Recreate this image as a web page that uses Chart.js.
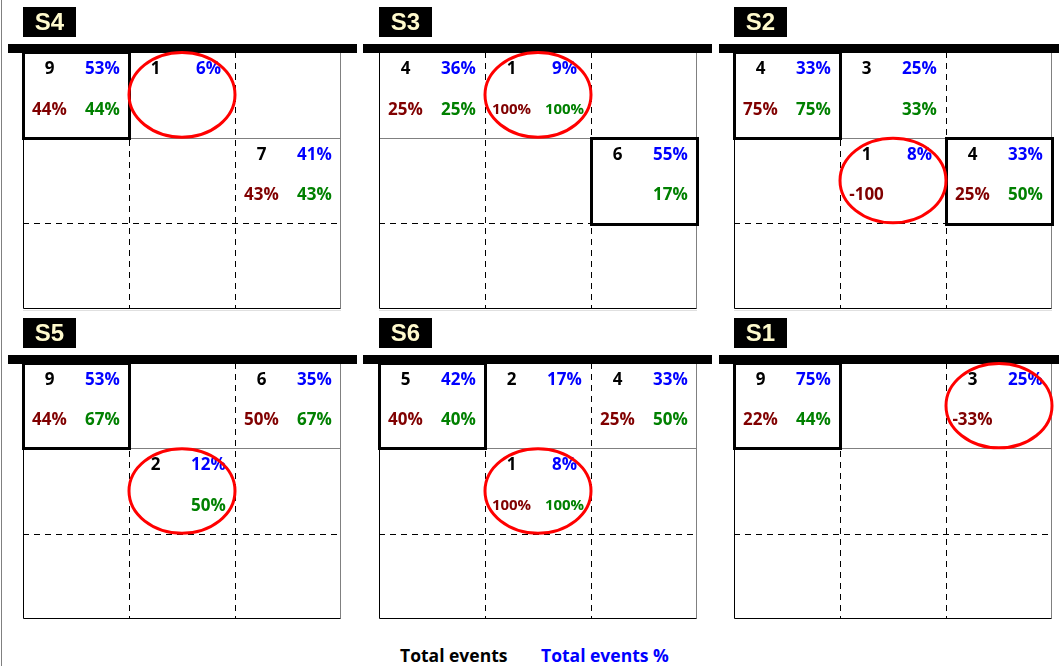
<!DOCTYPE html>
<html>
<head>
<meta charset="utf-8">
<title>Panels</title>
<script src="https://cdn.jsdelivr.net/npm/chart.js@4.4.1/dist/chart.umd.min.js"></script>
<style>
  body { margin: 0; background: #fff; }
  #wrap { position: relative; width: 1059px; height: 666px; overflow: hidden; font-family: "Open Sans", sans-serif; }
  #wrap canvas { position: absolute; }
  #edge { position: absolute; left: 1px; top: 0; width: 1px; height: 666px; background: #808080; }
  .leg { position: absolute; top: 643px; font-weight: bold; font-size: 17.5px; white-space: nowrap; }
</style>
</head>
<body>
<div id="wrap">
  <div id="edge"></div>
  <span class="leg" style="left:400px;color:#000">Total events</span>
  <span class="leg" style="left:541px;color:#0000ff">Total events %</span>
</div>

<script>
// data, one entry per panel (reading order)
const panelNames = ['S4', 'S3', 'S2', 'S5', 'S6', 'S1'];
const cellRow = [[0, 0, 1], [0, 0, 1], [0, 0, 1, 1], [0, 0, 1], [0, 0, 0, 1], [0, 0]];
const cellCol = [[0, 1, 2], [0, 1, 2], [0, 1, 1, 2], [0, 2, 1], [0, 1, 2, 1], [0, 2]];
const totalEvents = [[9, 1, 7], [4, 1, 6], [4, 3, 1, 4], [9, 6, 2], [5, 2, 4, 1], [9, 3]];
const totalEventsPct = [[53, 6, 41], [36, 9, 55], [33, 25, 8, 33], [53, 35, 12], [42, 17, 33, 8], [75, 25]];
const redPct = [[44, null, 43], [25, 100, null], [75, null, '-100', 25], [44, 50, null], [40, null, 25, 100], [22, -33]];
const greenPct = [[44, null, 43], [25, 100, 17], [75, 33, null, 50], [67, 67, 50], [40, null, 50, 100], [44, null]];
const boxedCells = [[0], [2], [0, 3], [0], [0], [0]];
const circledCell = [1, 1, 2, 2, 3, 1];

// canvas placement for the 3 columns / 2 rows
const colLeft = [8, 363, 719];
const colWidth = [349, 349, 340];
const colPad = [[15, 16], [16, 15], [15, 7]];
const rowTop = [0, 312];
const rowPad = [[52, 3], [51, 5]];

function fmt(v) {
  return typeof v === 'number' ? v + '%' : v;
}

const panelPlugin = {
  id: 'panelPlugin',
  beforeDatasetsDraw(chart) {
    const ctx = chart.ctx;
    const a = chart.chartArea;
    const x = chart.scales.x, y = chart.scales.y;
    ctx.save();
    ctx.lineWidth = 1;
    // dashed grid
    ctx.strokeStyle = '#000';
    ctx.setLineDash([6, 5]);
    [1, 2].forEach(v => {
      const px = Math.round(x.getPixelForValue(v)) + 0.5;
      ctx.beginPath(); ctx.moveTo(px, a.top); ctx.lineTo(px, a.bottom); ctx.stroke();
    });
    let py = Math.round(y.getPixelForValue(2)) + 0.5;
    ctx.beginPath(); ctx.moveTo(a.left, py); ctx.lineTo(a.right, py); ctx.stroke();
    ctx.setLineDash([]);
    // solid line under first row
    ctx.strokeStyle = '#808080';
    py = Math.round(y.getPixelForValue(1)) + 0.5;
    ctx.beginPath(); ctx.moveTo(a.left, py); ctx.lineTo(a.right, py); ctx.stroke();
    // frame
    const l = Math.round(a.left) + 0.5, r = Math.round(a.right) - 0.5, b = Math.round(a.bottom) - 0.5;
    ctx.beginPath(); ctx.moveTo(r, a.top); ctx.lineTo(r, b); ctx.stroke();
    ctx.strokeStyle = '#000';
    ctx.beginPath(); ctx.moveTo(l, a.top); ctx.lineTo(l, b); ctx.lineTo(r, b); ctx.stroke();
    if (chart.options.panel.row === 0) {
      ctx.strokeStyle = '#e0e0e0';
      ctx.beginPath(); ctx.moveTo(a.left, b + 2); ctx.lineTo(a.right, b + 2); ctx.stroke();
    }
    ctx.restore();
  },
  afterDraw(chart) {
    const ctx = chart.ctx;
    const a = chart.chartArea;
    const x = chart.scales.x, y = chart.scales.y;
    const p = chart.options.panel.index;
    const cw = x.getPixelForValue(1) - x.getPixelForValue(0);
    const ch = y.getPixelForValue(1) - y.getPixelForValue(0);
    ctx.save();

    // header bar and title
    ctx.fillStyle = '#000';
    ctx.fillRect(0, a.top - 8, chart.width, 9);
    ctx.fillRect(a.left, a.top - 45, 53, 30);
    ctx.fillStyle = '#fffacd';
    ctx.font = 'bold 24px "Liberation Sans", Arial, sans-serif';
    ctx.textAlign = 'center';
    ctx.textBaseline = 'middle';
    ctx.fillText(panelNames[p], a.left + 26.5, a.top - 29);

    // cell labels
    cellRow[p].forEach((row, i) => {
      const col = cellCol[p][i];
      const xl = x.getPixelForValue(col + 0.25), xr = x.getPixelForValue(col + 0.75);
      const yt = y.getPixelForValue(row + 0.2), yb = y.getPixelForValue(row + 0.675);
      const items = [
        [totalEvents[p][i], xl, yt, '#000000'],
        [fmt(totalEventsPct[p][i]), xr, yt, '#0000ff'],
        [redPct[p][i], xl, yb, '#800000'],
        [greenPct[p][i], xr, yb, '#008000']
      ];
      items.forEach(([v, tx, ty, c], k) => {
        if (v === null) return;
        const big = typeof v === 'number' && Math.abs(v) >= 100;
        ctx.font = 'bold ' + (big ? 15 : 17) + 'px "Open Sans", sans-serif';
        ctx.fillStyle = c;
        ctx.fillText(k >= 2 ? fmt(v) : String(v), tx, ty);
      });
    });

    // highlighted cells
    ctx.strokeStyle = '#000';
    ctx.lineWidth = 3;
    boxedCells[p].forEach(i => {
      const x0 = x.getPixelForValue(cellCol[p][i]), y0 = y.getPixelForValue(cellRow[p][i]);
      ctx.strokeRect(Math.round(x0) + 0.5, Math.round(y0) + 0.5, Math.round(cw), Math.round(ch));
    });

    // circled cell
    const ci = circledCell[p];
    const cx = x.getPixelForValue(cellCol[p][ci] + 0.5), cy = y.getPixelForValue(cellRow[p][ci] + 0.5);
    ctx.strokeStyle = '#ff0000';
    ctx.beginPath();
    ctx.ellipse(cx, cy, cw / 2, ch / 2 - 0.5, 0, 0, Math.PI * 2);
    ctx.stroke();
    ctx.restore();
  }
};

const wrap = document.getElementById('wrap');

panelNames.forEach((name, p) => {
  const col = p % 3, row = Math.floor(p / 3);
  const canvas = document.createElement('canvas');
  canvas.width = colWidth[col];
  canvas.height = 312;
  canvas.style.left = colLeft[col] + 'px';
  canvas.style.top = rowTop[row] + 'px';
  wrap.appendChild(canvas);

  const points = cellRow[p].map((r, i) => ({ x: cellCol[p][i] + 0.5, y: r + 0.5, v: totalEvents[p][i] }));

  new Chart(canvas, {
    type: 'scatter',
    data: {
      datasets: [{ label: name, data: points, pointRadius: 0, pointHoverRadius: 0 }]
    },
    options: {
      responsive: false,
      animation: false,
      events: [],
      panel: { index: p, row: row },
      layout: {
        padding: { left: colPad[col][0], right: colPad[col][1], top: rowPad[row][0], bottom: rowPad[row][1] }
      },
      scales: {
        x: { type: 'linear', min: 0, max: 3, display: false },
        y: { type: 'linear', min: 0, max: 3, reverse: true, display: false }
      },
      plugins: {
        legend: { display: false },
        tooltip: { enabled: false }
      }
    },
    plugins: [panelPlugin]
  });
});
</script>
</body>
</html>
